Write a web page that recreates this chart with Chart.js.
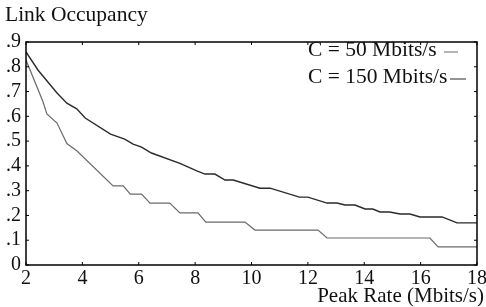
<!DOCTYPE html>
<html>
<head>
<meta charset="utf-8">
<script src="https://cdn.jsdelivr.net/npm/chart.js@4"></script>
<style>
  html, body { margin: 0; padding: 0; background: #fff; }
  #wrap { width: 486px; height: 307px; }
</style>
</head>
<body>
<div id="wrap"><canvas id="occChart"></canvas></div>
<script>
// Link occupancy vs peak rate, two link capacities
const seriesNames = ['C = 50 Mbits/s', 'C = 150 Mbits/s'];

const rate50 = [2.0, 2.6, 2.74, 3.1, 3.45, 3.81, 5.09, 5.45, 5.7, 6.1, 6.4, 7.1, 7.46, 8.1, 8.38, 9.77, 10.12, 12.36, 12.68, 16.33, 16.62, 18.0];
const occ50 = [0.827, 0.66, 0.61, 0.573, 0.49, 0.46, 0.319, 0.319, 0.286, 0.286, 0.25, 0.25, 0.21, 0.21, 0.173, 0.173, 0.141, 0.141, 0.109, 0.109, 0.073, 0.073];

const rate150 = [2.0, 2.43, 3.1, 3.45, 3.8, 4.1, 5.0, 5.5, 5.8, 6.1, 6.45, 7.46, 8.06, 8.35, 8.7, 9.06, 9.35, 10.3, 10.66, 11.7, 12.0, 12.68, 13.03, 13.32, 13.67, 14.03, 14.3, 14.56, 14.9, 15.27, 15.62, 15.98, 16.76, 17.29, 18.0];
const occ150 = [0.86, 0.786, 0.694, 0.653, 0.63, 0.593, 0.528, 0.508, 0.488, 0.476, 0.452, 0.41, 0.38, 0.367, 0.367, 0.343, 0.343, 0.31, 0.31, 0.274, 0.274, 0.25, 0.25, 0.242, 0.242, 0.226, 0.226, 0.214, 0.214, 0.206, 0.206, 0.194, 0.194, 0.17, 0.17];

const xTicks = [2, 4, 6, 8, 10, 12, 14, 16, 18];
const yTicks = [0, 0.1, 0.2, 0.3, 0.4, 0.5, 0.6, 0.7, 0.8, 0.9];
const yTickLabels = ['0', '.1', '.2', '.3', '.4', '.5', '.6', '.7', '.8', '.9'];

const serif = '"Liberation Serif", "DejaVu Serif", serif';
const lineColors = ['#6a6a6a', '#2a2a2a'];

function toXY(xs, ys) {
  return xs.map((x, i) => ({ x: x, y: ys[i] }));
}

// frame around the plot with small inward tick marks, plus the texts
const framePlugin = {
  id: 'frame',
  afterDraw(chart) {
    const ctx = chart.ctx;
    const a = chart.chartArea;
    const xs = chart.scales.x;
    const ys = chart.scales.y;
    ctx.save();
    ctx.strokeStyle = '#000';
    ctx.lineWidth = 1.5;
    ctx.strokeRect(a.left, a.top, a.right - a.left, a.bottom - a.top);
    ctx.lineWidth = 1;
    xTicks.forEach(v => {
      const px = xs.getPixelForValue(v);
      ctx.beginPath();
      ctx.moveTo(px, a.bottom); ctx.lineTo(px, a.bottom - 3);
      ctx.moveTo(px, a.top); ctx.lineTo(px, a.top + 3);
      ctx.stroke();
    });
    yTicks.forEach(v => {
      const py = ys.getPixelForValue(v);
      ctx.beginPath();
      ctx.moveTo(a.left, py); ctx.lineTo(a.left + 3, py);
      ctx.moveTo(a.right, py); ctx.lineTo(a.right - 3, py);
      ctx.stroke();
    });

    ctx.fillStyle = '#111';
    ctx.font = '21.5px ' + serif;
    ctx.textBaseline = 'alphabetic';
    ctx.textAlign = 'left';
    ctx.fillText('Link Occupancy', 5, 21);
    ctx.font = '21px ' + serif;
    ctx.textAlign = 'right';
    ctx.fillText('Peak Rate (Mbits/s)', 484, 302);

    // legend: text then a short line sample on its right
    ctx.font = '21.5px ' + serif;
    const rows = [{ y: 56, x1: 444, x2: 458 }, { y: 83, x1: 450, x2: 466 }];
    seriesNames.forEach((name, i) => {
      const r = rows[i];
      ctx.fillStyle = '#111';
      ctx.textAlign = 'left';
      ctx.fillText(name, 308, r.y);
      ctx.strokeStyle = lineColors[i];
      ctx.lineWidth = 1;
      ctx.beginPath();
      ctx.moveTo(r.x1, r.y - 4);
      ctx.lineTo(r.x2, r.y - 4);
      ctx.stroke();
    });
    ctx.restore();
  }
};

new Chart(document.getElementById('occChart'), {
  type: 'line',
  data: {
    datasets: [
      {
        label: seriesNames[0],
        data: toXY(rate50, occ50),
        borderColor: lineColors[0],
        borderWidth: 1.2,
        pointRadius: 0,
        tension: 0,
        fill: false
      },
      {
        label: seriesNames[1],
        data: toXY(rate150, occ150),
        borderColor: lineColors[1],
        borderWidth: 1.4,
        pointRadius: 0,
        tension: 0,
        fill: false
      }
    ]
  },
  options: {
    responsive: true,
    maintainAspectRatio: false,
    animation: false,
    layout: { padding: { top: 42, right: 0, left: 0, bottom: 0 } },
    plugins: {
      legend: { display: false },
      tooltip: { enabled: false }
    },
    scales: {
      x: {
        type: 'linear',
        min: 2,
        max: 18,
        afterBuildTicks: scale => { scale.ticks = xTicks.map(v => ({ value: v })); },
        grid: { display: false, drawTicks: false },
        border: { display: false },
        ticks: {
          color: '#111',
          padding: 2,
          maxRotation: 0,
          autoSkip: false,
          font: { family: serif, size: 20 }
        },
        afterFit: scale => {
          scale.height = 42;
          scale.paddingLeft = 0;
          scale.paddingRight = 9;
        }
      },
      y: {
        type: 'linear',
        min: 0,
        max: 0.9,
        afterBuildTicks: scale => { scale.ticks = yTicks.map(v => ({ value: v })); },
        grid: { display: false, drawTicks: false },
        border: { display: false },
        ticks: {
          color: '#111',
          padding: 5,
          autoSkip: false,
          font: { family: serif, size: 20 },
          callback: (v, i) => yTickLabels[i]
        },
        afterFit: scale => { scale.width = 26; }
      }
    }
  },
  plugins: [framePlugin]
});
</script>
</body>
</html>
